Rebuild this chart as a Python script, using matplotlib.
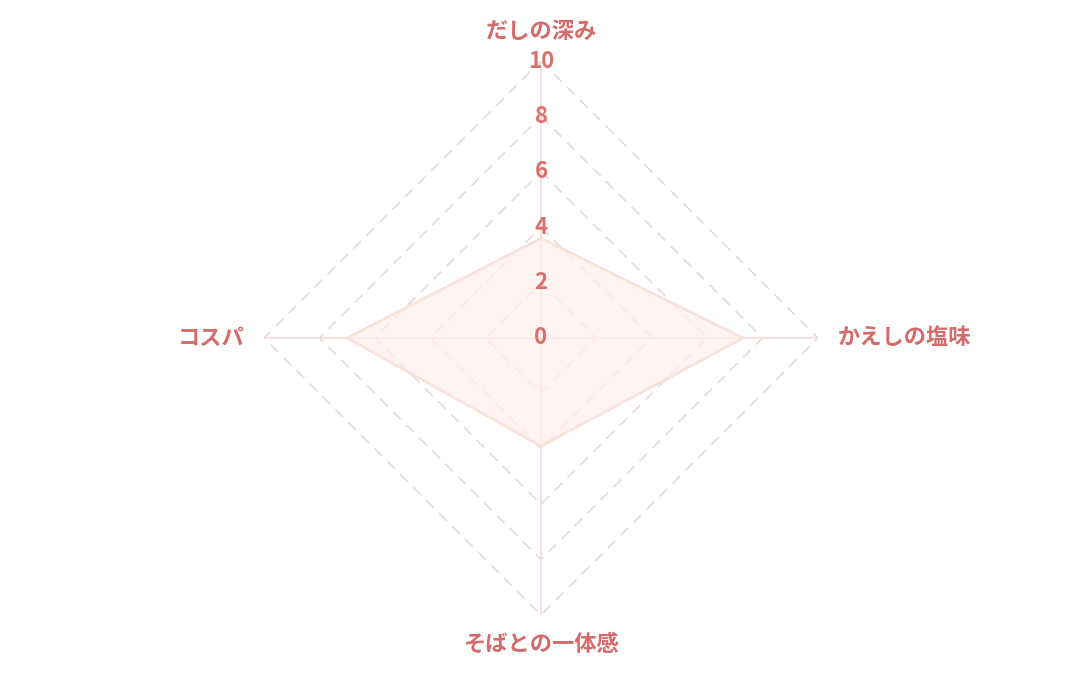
import numpy as np
import matplotlib
matplotlib.use("Agg")
import matplotlib.pyplot as plt

plt.rcParams['font.family'] = ['Noto Sans CJK JP', 'DejaVu Sans']

categories = ["だしの深み", "かえしの塩味", "そばとの一体感", "コスパ"]
values = [3.6, 7.3, 3.9, 7.0]
ticks = [0, 2, 4, 6, 8, 10]
tick_labels = ["0", "2", "4", "6", "8", "10"]

label_color = "#d46a6a"
tick_color = "#d9716d"
grid_color = "#e4dada"
spoke_color = "#f7dcdc"
fill_color = "#fdefec"
edge_color = "#f9e1dc"

fig = plt.figure(figsize=(10.8, 6.75), dpi=100)
cx, cy = 541 / 1080, 1 - 338 / 675
rw, rh = 277 / 1080, 277 / 675
ax = fig.add_axes([cx - rw, cy - rh, 2 * rw, 2 * rh], projection='polar')
ax.set_theta_offset(np.pi / 2)
ax.set_theta_direction(-1)
ax.set_ylim(0, 10)
ax.grid(False)
ax.spines['polar'].set_visible(False)
ax.set_xticks([])
ax.set_yticks([])
ax.patch.set_alpha(0)

n = len(categories)
angles = np.arange(n) * 2 * np.pi / n
closed = np.concatenate([angles, angles[:1]])

# rings (polygon grid)
for r in ticks[1:]:
    ax.plot(closed, [r] * (n + 1), color=grid_color, lw=1.2, ls=(0, (6.5, 4.5)), zorder=1)

# spokes
for a in angles:
    ax.plot([a, a], [0, 10], color=spoke_color, lw=1.3, zorder=1)

# data polygon
vals = values + values[:1]
ax.fill(closed, vals, facecolor=fill_color, alpha=0.75, zorder=2)
ax.plot(closed, vals, color=edge_color, lw=2, zorder=3)

# tick labels on top spoke
for r, t in zip(ticks, tick_labels):
    ax.text(0, r, t, ha='center', va='center', color=tick_color,
            fontsize=16, fontweight='bold', zorder=5)

# category labels
ax.text(angles[0], 11.05, categories[0], ha='center', va='center',
        color=label_color, fontsize=16, fontweight='bold')
ax.text(angles[1], 10.72, categories[1], ha='left', va='center',
        color=label_color, fontsize=16, fontweight='bold')
ax.text(angles[2], 11.05, categories[2], ha='center', va='center',
        color=label_color, fontsize=16, fontweight='bold')
ax.text(angles[3], 10.72, categories[3], ha='right', va='center',
        color=label_color, fontsize=16, fontweight='bold')

fig.savefig("out.png", dpi=100, facecolor='white')
